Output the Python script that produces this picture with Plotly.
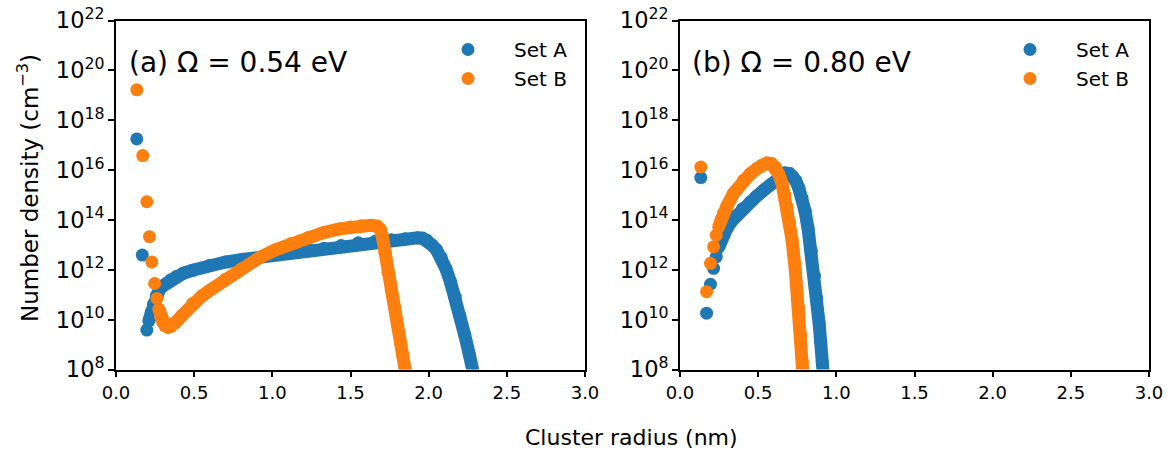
import plotly.graph_objects as go

BLUE = "#1f77b4"
ORANGE = "#ff7f0e"
FONT = "DejaVu Sans"

# Cluster radius (nm) and log10 of number density (cm^-3).
# "small" = the first few cluster sizes, drawn as separate dots;
# the rest are dense enough to read as a continuous band.

# ---- (a) Omega = 0.54 eV ----
a_setA_r_small = [0.133, 0.168, 0.197]
a_setA_log_small = [17.25, 12.59, 9.58]
a_setA_r = [0.210, 0.225, 0.240, 0.257, 0.278, 0.30, 0.32, 0.35, 0.385, 0.43,
            0.49, 0.60, 0.70, 0.81, 0.93, 1.03, 1.14, 1.24, 1.33, 1.44,
            1.55, 1.66, 1.76, 1.85, 1.93, 1.96, 1.99, 2.02, 2.05, 2.08,
            2.11, 2.14, 2.17, 2.20, 2.23, 2.26, 2.29]
a_setA_log = [9.95, 10.29, 10.62, 10.95, 11.22, 11.35, 11.45, 11.60, 11.73, 11.86,
              11.98, 12.18, 12.31, 12.42, 12.52, 12.61, 12.70, 12.78, 12.86, 12.97,
              13.08, 13.15, 13.20, 13.25, 13.28, 13.27, 13.18, 13.00, 12.80, 12.50,
              12.05, 11.50, 10.90, 10.15, 9.40, 8.60, 7.75]

a_setB_r_small = [0.133, 0.171, 0.197, 0.214, 0.229, 0.247, 0.262]
a_setB_log_small = [19.22, 16.58, 14.73, 13.33, 12.31, 11.45, 10.85]
a_setB_r = [0.274, 0.285, 0.299, 0.315, 0.331, 0.35, 0.38, 0.42, 0.49, 0.55,
            0.60, 0.70, 0.80, 0.92, 1.02, 1.12, 1.23, 1.33, 1.43, 1.50,
            1.57, 1.63, 1.67, 1.69, 1.705, 1.72, 1.74, 1.76, 1.78, 1.80,
            1.82, 1.835, 1.85, 1.86]
a_setB_log = [10.42, 10.12, 9.89, 9.75, 9.70, 9.72, 9.88, 10.15, 10.65, 10.95,
              11.18, 11.62, 12.03, 12.50, 12.80, 13.05, 13.30, 13.50, 13.64, 13.72,
              13.77, 13.78, 13.75, 13.62, 13.30, 12.70, 11.90, 11.20, 10.52, 9.80,
              9.05, 8.55, 7.95, 7.60]

# ---- (b) Omega = 0.80 eV ----
b_setA_r_small = [0.133, 0.170, 0.195, 0.215, 0.232]
b_setA_log_small = [15.70, 10.26, 11.42, 12.06, 12.52]
b_setA_r = [0.247, 0.26, 0.275, 0.30, 0.33, 0.363, 0.40, 0.449, 0.49, 0.535,
            0.58, 0.62, 0.65, 0.675, 0.70, 0.72, 0.74, 0.76, 0.78, 0.80,
            0.82, 0.84, 0.86, 0.875, 0.89, 0.90, 0.91, 0.92]
b_setA_log = [12.90, 13.15, 13.40, 13.66, 13.95, 14.19, 14.45, 14.72, 14.95, 15.19,
              15.42, 15.62, 15.78, 15.88, 15.86, 15.76, 15.58, 15.28, 14.88, 14.35,
              13.62, 12.75, 11.75, 10.85, 9.85, 9.10, 8.30, 7.50]

b_setB_r_small = [0.133, 0.170, 0.195, 0.215, 0.232]
b_setB_log_small = [16.12, 11.12, 12.26, 12.92, 13.39]
b_setB_r = [0.247, 0.262, 0.278, 0.30, 0.342, 0.406, 0.45, 0.492, 0.525, 0.556,
            0.585, 0.61, 0.63, 0.653, 0.67, 0.685, 0.70, 0.717, 0.738, 0.76,
            0.772, 0.782, 0.79]
b_setB_log = [13.72, 14.00, 14.26, 14.55, 15.06, 15.59, 15.85, 16.06, 16.20, 16.28,
              16.25, 16.12, 15.85, 15.46, 15.00, 14.52, 13.90, 13.19, 11.95, 10.45,
              9.40, 8.30, 7.50]

x_ticks = [0.0, 0.5, 1.0, 1.5, 2.0, 2.5, 3.0]
panel_labels = ["(a) \u03a9 = 0.54 eV", "(b) \u03a9 = 0.80 eV"]
series_names = ["Set A", "Set B"]

W, H = 1168, 450
MS = 13


def dens(logs):
    return [10 ** v for v in logs]


def px_x(p):
    return p / W


def px_y(p):
    return 1 - p / H


fig = go.Figure()

panels = [
    ("x", "y", "legend",
     [(a_setA_r_small, a_setA_log_small, a_setA_r, a_setA_log, BLUE),
      (a_setB_r_small, a_setB_log_small, a_setB_r, a_setB_log, ORANGE)]),
    ("x2", "y2", "legend2",
     [(b_setA_r_small, b_setA_log_small, b_setA_r, b_setA_log, BLUE),
      (b_setB_r_small, b_setB_log_small, b_setB_r, b_setB_log, ORANGE)]),
]

for xa, ya, leg, sets in panels:
    for name, (rs, ls, rb, lb, col) in zip(series_names, sets):
        fig.add_trace(go.Scatter(
            x=rb, y=dens(lb), mode="lines+markers", xaxis=xa, yaxis=ya,
            line=dict(color=col, width=MS), marker=dict(color=col, size=MS),
            showlegend=False, legendgroup=name, legend=leg, hoverinfo="skip"))
        fig.add_trace(go.Scatter(
            x=rs, y=dens(ls), mode="markers", xaxis=xa, yaxis=ya, name=name,
            marker=dict(color=col, size=MS), legendgroup=name, legend=leg))

axis_common = dict(
    showgrid=False, zeroline=False, showline=True, linecolor="black",
    linewidth=1.8, mirror=True, ticks="outside", ticklen=6, tickwidth=1.8,
    tickcolor="black", tickfont=dict(family=FONT, size=18, color="black"),
    automargin=False,
)

y_dom = [px_y(369.5), px_y(20.5)]
legend_common = dict(xanchor="left", yanchor="top", bgcolor="rgba(0,0,0,0)",
                     font=dict(family=FONT, size=20, color="black"),
                     itemwidth=82, tracegroupgap=0)
fig.update_layout(
    width=W, height=H,
    margin=dict(l=0, r=0, t=0, b=0, autoexpand=False),
    paper_bgcolor="white", plot_bgcolor="white",
    font=dict(family=FONT, color="black"),
    xaxis=dict(domain=[px_x(116), px_x(585)], range=[0, 3],
               tickvals=x_ticks, tickformat=".1f", **axis_common),
    xaxis2=dict(domain=[px_x(680), px_x(1149)], range=[0, 3],
                tickvals=x_ticks, tickformat=".1f", anchor="y2", **axis_common),
    yaxis=dict(domain=y_dom, type="log", range=[8, 22], dtick=2,
               exponentformat="power", **axis_common),
    yaxis2=dict(domain=y_dom, type="log", range=[8, 22], dtick=2,
                exponentformat="power", anchor="x2", **axis_common),
    legend=dict(x=px_x(422), y=px_y(30), **legend_common),
    legend2=dict(x=px_x(984), y=px_y(30), **legend_common),
    showlegend=True,
)

for label, xpos in zip(panel_labels, [127, 690]):
    fig.add_annotation(text=label, x=px_x(xpos), y=px_y(62),
                       xref="paper", yref="paper", xanchor="left", yanchor="middle",
                       showarrow=False, font=dict(family=FONT, size=28, color="black"))

fig.add_annotation(text="Number density (cm<sup>\u22123</sup>)", textangle=-90,
                   x=px_x(28), y=px_y(188), xref="paper", yref="paper",
                   xanchor="center", yanchor="middle", showarrow=False,
                   font=dict(family=FONT, size=23, color="black"))
fig.add_annotation(text="Cluster radius (nm)", x=px_x(631), y=px_y(437),
                   xref="paper", yref="paper", xanchor="center", yanchor="middle",
                   showarrow=False, font=dict(family=FONT, size=22, color="black"))

fig.write_html("out.html")
